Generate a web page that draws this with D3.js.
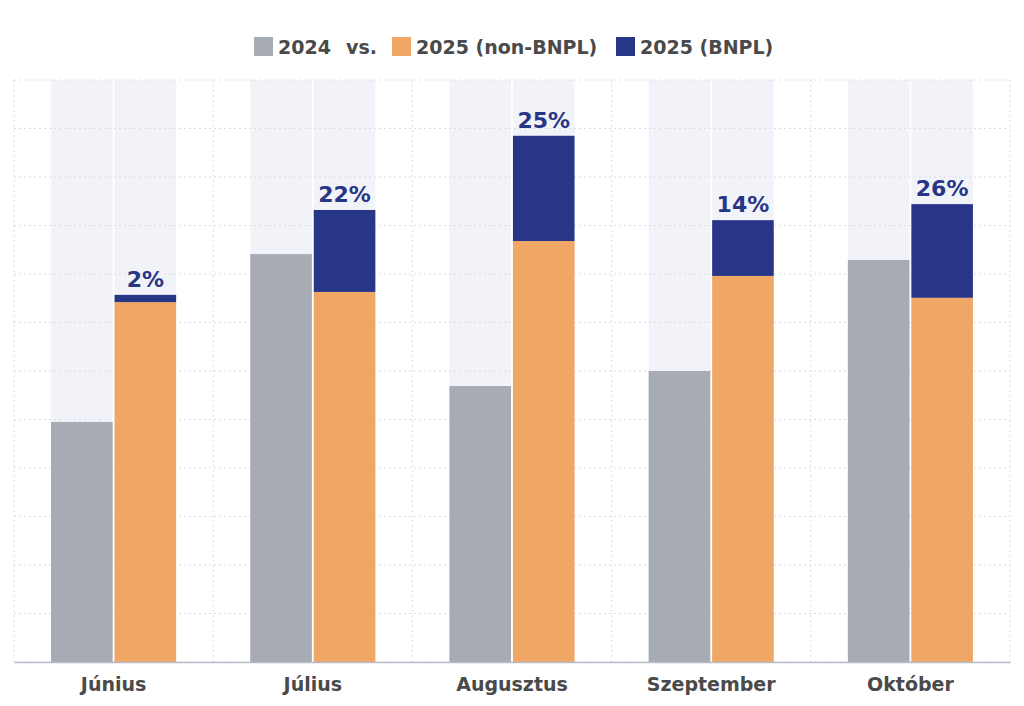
<!DOCTYPE html>
<html>
<head>
<meta charset="utf-8">
<script src="https://cdn.jsdelivr.net/npm/d3@7"></script>
<style>
  body { margin: 0; background: #fff; }
  text { font-family: "DejaVu Sans", "Inter", sans-serif; }
</style>
</head>
<body>
<div id="chart"></div>
<script>
// data (arbitrary units, grid step = 10)
var months = ["Június", "Július", "Augusztus", "Szeptember", "Október"];
var val2024 = [49.5, 84.1, 56.9, 60.0, 82.9];
var valNonBnpl = [74.2, 76.3, 86.8, 79.6, 75.1];
var valBnpl = [1.5, 16.9, 21.7, 11.5, 19.3];
var bnplLabels = ["2%", "22%", "25%", "14%", "26%"];
var legendItems = [
  {label: "2024", color: "#a7abb3"},
  {label: "2025 (non-BNPL)", color: "#f0a766"},
  {label: "2025 (BNPL)", color: "#283687"}
];

var width = 1024, height = 706;
var margin = {top: 80, right: 14, bottom: 44, left: 14};

var svg = d3.select("#chart").append("svg")
  .attr("width", width)
  .attr("height", height);

var x = d3.scaleBand()
  .domain(months)
  .range([margin.left, width - margin.right]);

var sub = d3.scaleBand()
  .domain(["a", "b"])
  .range([x.bandwidth() * 0.186, x.bandwidth() * 0.814])
  .paddingInner(0.03);

var y = d3.scaleLinear()
  .domain([0, 120])
  .range([height - margin.bottom, margin.top]);

// light background bands
var bgCats = svg.append("g").selectAll("g")
  .data(months)
  .enter().append("g")
  .attr("transform", function (d) { return "translate(" + x(d) + ",0)"; });

bgCats.selectAll("rect")
  .data(["a", "b"])
  .enter().append("rect")
  .attr("x", function (d) { return sub(d); })
  .attr("width", sub.bandwidth())
  .attr("y", y(120))
  .attr("height", y(0) - y(120))
  .attr("fill", "#f1f3f9");

// grid
var grid = svg.append("g");
grid.selectAll(".h")
  .data(y.ticks(12))
  .enter().append("line")
  .attr("x1", margin.left).attr("x2", width - margin.right)
  .attr("y1", function (d) { return y(d); })
  .attr("y2", function (d) { return y(d); })
  .attr("stroke", "#dcdde2")
  .attr("stroke-width", 1)
  .attr("stroke-dasharray", "2,3");

var vlines = months.map(function (m) { return x(m); }).concat([width - margin.right]);
grid.selectAll(".v")
  .data(vlines)
  .enter().append("line")
  .attr("x1", function (d) { return d; })
  .attr("x2", function (d) { return d; })
  .attr("y1", y(120)).attr("y2", y(0))
  .attr("stroke", "#dcdde2")
  .attr("stroke-width", 1)
  .attr("stroke-dasharray", "2,3");

// bars
var cats = svg.append("g").selectAll("g")
  .data(months)
  .enter().append("g")
  .attr("transform", function (d) { return "translate(" + x(d) + ",0)"; });

cats.append("rect")
  .attr("x", sub("a"))
  .attr("width", sub.bandwidth())
  .attr("y", function (d, i) { return y(val2024[i]); })
  .attr("height", function (d, i) { return y(0) - y(val2024[i]); })
  .attr("fill", "#a7abb3");

cats.append("rect")
  .attr("x", sub("b"))
  .attr("width", sub.bandwidth())
  .attr("y", function (d, i) { return y(valNonBnpl[i]); })
  .attr("height", function (d, i) { return y(0) - y(valNonBnpl[i]); })
  .attr("fill", "#f0a766");

cats.append("rect")
  .attr("x", sub("b"))
  .attr("width", sub.bandwidth())
  .attr("y", function (d, i) { return y(valNonBnpl[i] + valBnpl[i]); })
  .attr("height", function (d, i) { return y(valNonBnpl[i]) - y(valNonBnpl[i] + valBnpl[i]); })
  .attr("fill", "#283687");

cats.append("text")
  .attr("x", sub("b") + sub.bandwidth() / 2)
  .attr("y", function (d, i) { return y(valNonBnpl[i] + valBnpl[i]) - 8; })
  .attr("text-anchor", "middle")
  .style("font-size", "22px")
  .style("font-weight", "700")
  .style("fill", "#283687")
  .text(function (d, i) { return bnplLabels[i]; });

// x axis
var xAxis = svg.append("g")
  .attr("transform", "translate(0," + y(0) + ")")
  .call(d3.axisBottom(x).tickSize(0).tickPadding(16));
xAxis.select(".domain").attr("stroke", "#b9bbc6").attr("stroke-width", 1.5);
xAxis.selectAll("text")
  .style("font-family", "'DejaVu Sans', sans-serif")
  .style("font-size", "19px")
  .style("font-weight", "700")
  .style("fill", "#4a4a4a");

// legend
var legend = svg.append("g").attr("transform", "translate(254,37)");
var lx = [0, 138, 362];
legendItems.forEach(function (it, i) {
  var g = legend.append("g").attr("transform", "translate(" + lx[i] + ",0)");
  g.append("rect").attr("width", 19).attr("height", 19).attr("fill", it.color);
  g.append("text").attr("x", 24).attr("y", 17)
    .style("font-size", "19px").style("font-weight", "700").style("fill", "#4a4a4a")
    .text(it.label);
});
legend.append("text").attr("x", 92).attr("y", 17)
  .style("font-size", "19px").style("font-weight", "700").style("fill", "#4a4a4a")
  .text("vs.");
</script>
</body>
</html>
